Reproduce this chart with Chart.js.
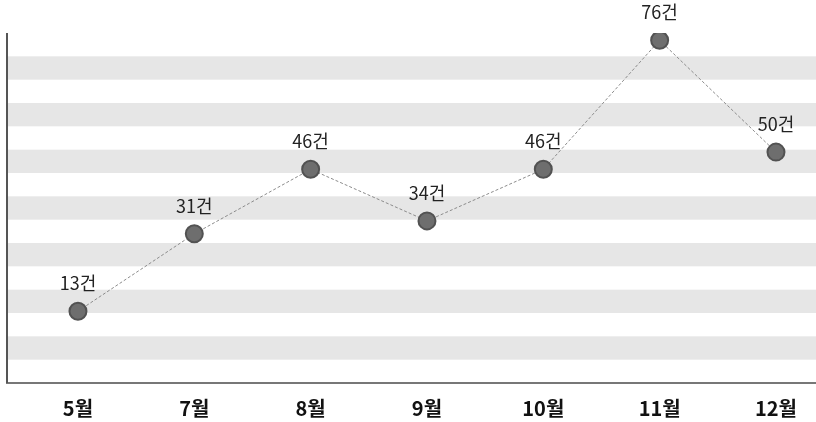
<!DOCTYPE html>
<html lang="ko">
<head>
<meta charset="utf-8">
<script src="https://cdn.jsdelivr.net/npm/chart.js@4"></script>
<style>
  body { margin: 0; background: #fff; }
  #wrap { width: 816px; height: 422px; position: relative; }
</style>
</head>
<body>
<div id="wrap"><canvas id="monthChart"></canvas></div>
<script>
// Monthly counts
const months = ['5월', '7월', '8월', '9월', '10월', '11월', '12월'];
const counts = [13, 31, 46, 34, 46, 76, 50];
const unit = '건';

const FONT = '"Noto Sans CJK KR", "Noto Sans", sans-serif';

// Alternating grey stripes behind the line, plus the left axis line
const stripes = {
    id: 'stripes',
    beforeDatasetsDraw(chart) {
        const { ctx, chartArea } = chart;
        const n = 15;
        const h = (chartArea.bottom - chartArea.top) / n;
        ctx.save();
        ctx.fillStyle = '#e6e6e6';
        for (let i = 1; i < n; i += 2) {
            ctx.fillRect(chartArea.left, chartArea.top + i * h, chartArea.right - chartArea.left, h);
        }
        ctx.strokeStyle = '#555';
        ctx.lineWidth = 2;
        ctx.beginPath();
        ctx.moveTo(chartArea.left, chartArea.top);
        ctx.lineTo(chartArea.left, chartArea.bottom);
        ctx.stroke();
        ctx.restore();
    }
};

// Value labels above each point
const valueLabels = {
    id: 'valueLabels',
    afterDatasetsDraw(chart) {
        const { ctx } = chart;
        const meta = chart.getDatasetMeta(0);
        ctx.save();
        ctx.font = '18px ' + FONT;
        ctx.fillStyle = '#222';
        ctx.textAlign = 'center';
        ctx.textBaseline = 'middle';
        meta.data.forEach((pt, i) => {
            ctx.fillText(counts[i] + unit, pt.x, pt.y - 28);
        });
        ctx.restore();
    }
};

const ctx = document.getElementById('monthChart').getContext('2d');
new Chart(ctx, {
    type: 'line',
    data: {
        datasets: [{
            data: counts.map((v, i) => ({ x: i, y: v })),
            borderColor: '#8c8c8c',
            borderWidth: 1,
            borderDash: [3, 2],
            pointRadius: 8.5,
            pointBackgroundColor: '#6e6e6e',
            pointBorderColor: '#525252',
            pointBorderWidth: 2,
            tension: 0
        }]
    },
    options: {
        responsive: true,
        maintainAspectRatio: false,
        animation: false,
        layout: { autoPadding: false, padding: { top: 33, left: 7, right: 0, bottom: 0 } },
        plugins: {
            legend: { display: false },
            tooltip: { enabled: false }
        },
        scales: {
            x: {
                type: 'linear',
                min: -0.61,
                max: 6.344,
                afterBuildTicks: (s) => { s.ticks = months.map((_, i) => ({ value: i })); },
                afterFit: (s) => { s.paddingLeft = 0; s.paddingRight = 0; s.height = 39; },
                grid: { display: false, drawTicks: false },
                border: { display: true, color: '#777', width: 2 },
                ticks: {
                    padding: 13,
                    color: '#111',
                    font: { family: FONT, size: 20, weight: 'bold' },
                    callback: (v) => months[v]
                }
            },
            y: {
                display: false,
                min: -3.7,
                max: 77.7
            }
        }
    },
    plugins: [stripes, valueLabels]
});
</script>
</body>
</html>
